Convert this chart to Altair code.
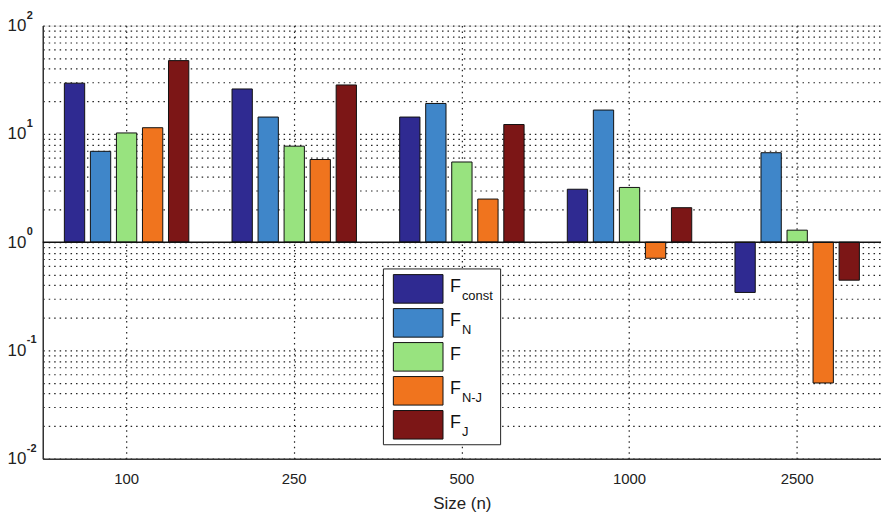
import altair as alt
import pandas as pd

sizes = ["100", "250", "500", "1000", "2500"]
series = ["Fconst", "FN", "F", "FN-J", "FJ"]
subs = ["const", "N", "", "N-J", "J"]
colors = ["#2f2a91", "#3f86c9", "#98e37f", "#f0741e", "#7c1616"]

v_fconst = [29.4, 26.0, 14.3, 3.08, 0.343]
v_fn = [6.9, 14.3, 19.1, 16.6, 6.7]
v_f = [10.2, 7.7, 5.5, 3.2, 1.29]
v_fnj = [11.4, 5.8, 2.5, 0.71, 0.05]
v_fj = [47.5, 28.3, 12.2, 2.08, 0.445]

decades = [0.01, 0.1, 1, 10, 100]
exps = ["-2", "-1", "0", "1", "2"]

rows = []
for s, vals in zip(series, [v_fconst, v_fn, v_f, v_fnj, v_fj]):
    for sz, v in zip(sizes, vals):
        rows.append({"size": sz, "series": s, "value": v})
df = pd.DataFrame(rows)

grid_vals = []
for d in decades[:-1]:
    for k in range(1, 10):
        grid_vals.append(round(d * k, 6))
grid_vals.append(100)

FONT = "Liberation Sans"
ysc = alt.Scale(type="log", domain=[0.01, 100], nice=False)
colsc = alt.Scale(domain=series, range=colors)

bars = alt.Chart(df).mark_bar(stroke="#111", strokeWidth=1).encode(
    x=alt.X("size:N", sort=sizes, scale=alt.Scale(paddingInner=0, paddingOuter=0),
            axis=alt.Axis(title="Size (n)", labelAngle=0, grid=True, bandPosition=0.5,
                          gridDash=[1.5, 4], gridColor="#222", gridWidth=1.2,
                          ticks=False, labelPadding=13, labelFontSize=15,
                          titleFontSize=17, titleFontWeight="normal", titlePadding=9,
                          labelColor="#222", titleColor="#222",
                          domainColor="#333", domainWidth=1.5)),
    xOffset=alt.XOffset("series:N", sort=series,
                        scale=alt.Scale(paddingInner=0.22, paddingOuter=0.83)),
    y=alt.Y("value:Q", scale=ysc, title=None,
            axis=alt.Axis(values=grid_vals, grid=True, gridDash=[1.5, 4], gridColor="#222",
                          gridWidth=1.2, ticks=False, labelPadding=17, labelFontSize=17,
                          labelColor="#222", domainColor="#333", domainWidth=1.5,
                          labelExpr="abs(log(datum.value)/LN10 - round(log(datum.value)/LN10)) < 0.001 ? '10' : ''")),
    y2=alt.datum(1),
    color=alt.Color("series:N", scale=colsc, legend=None),
)

base_rule = alt.Chart(pd.DataFrame({"v": [1]})).mark_rule(color="#111", strokeWidth=1.5).encode(
    y=alt.Y("v:Q", scale=ysc)
)

exp_df = pd.DataFrame({"value": decades, "exp": exps})
exponents = alt.Chart(exp_df).mark_text(
    align="left", baseline="bottom", fontSize=11, fontWeight="bold", color="#222", font=FONT, dy=-5
).encode(
    y=alt.Y("value:Q", scale=ysc),
    x=alt.value(-16),
    text="exp:N",
)

main = alt.layer(bars, base_rule, exponents)

leg_df = pd.DataFrame({"series": series, "sub": subs, "F": ["F"] * 5})
lsc = alt.Scale(domain=series, range=[249, 418], paddingInner=0.16, paddingOuter=0.05)

leg_box = alt.Chart(pd.DataFrame({"a": [0]})).mark_rect(fill="white", stroke="#222", strokeWidth=1).encode(
    x=alt.value(343), x2=alt.value(461), y=alt.value(245), y2=alt.value(422)
)
swatch = alt.Chart(leg_df).mark_rect(stroke="#111", strokeWidth=1).encode(
    x=alt.value(353), x2=alt.value(403),
    y=alt.Y("series:N", scale=lsc, axis=None, sort=series),
    color=alt.Color("series:N", scale=colsc, legend=None),
)
ftext = alt.Chart(leg_df).mark_text(align="left", baseline="middle", fontSize=18, font=FONT,
                                    color="#111", dy=-2).encode(
    x=alt.value(410),
    y=alt.Y("series:N", scale=lsc, axis=None, sort=series),
    text="F:N",
)
subtext = alt.Chart(leg_df).mark_text(align="left", baseline="middle", fontSize=13, font=FONT,
                                      color="#111", dy=7).encode(
    x=alt.value(422),
    y=alt.Y("series:N", scale=lsc, axis=None, sort=series),
    text="sub:N",
)
legend = alt.layer(leg_box, swatch, ftext, subtext)

chart = alt.layer(main, legend).resolve_scale(y="independent").properties(
    width=844, height=436,
    autosize=alt.AutoSizeParams(type="none"),
    padding={"left": 35, "top": 16, "right": 0, "bottom": 55},
).configure_view(stroke="#333", strokeWidth=1.5).configure(font=FONT, background="white")

chart.save("out.html", embed_options={"renderer": "svg", "actions": False})
